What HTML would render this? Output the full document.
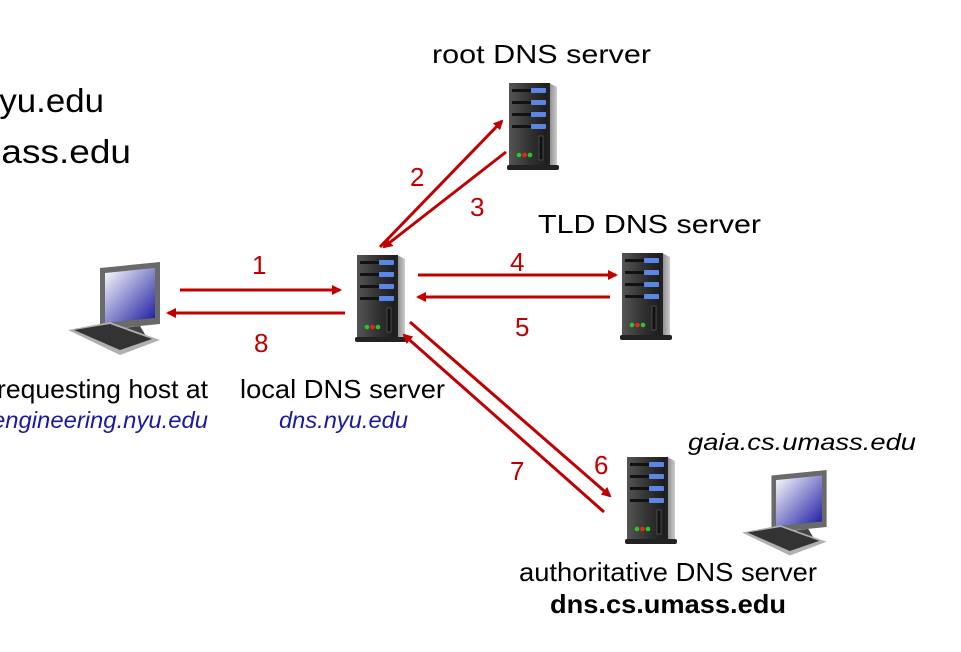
<!DOCTYPE html>
<html><head><meta charset="utf-8"><style>
html,body{margin:0;padding:0;background:#fff;}
svg{display:block;}
text{font-family:"Liberation Sans",Arial,sans-serif;}
</style></head><body>
<svg width="961" height="652" viewBox="0 0 961 652" xmlns="http://www.w3.org/2000/svg">
<defs>
<linearGradient id="body" x1="0" x2="1" y1="0" y2="0">
<stop offset="0" stop-color="#555"/><stop offset="0.5" stop-color="#333"/><stop offset="1" stop-color="#1a1a1a"/>
</linearGradient>
<linearGradient id="side" x1="0" x2="1"><stop offset="0" stop-color="#888"/><stop offset="1" stop-color="#ccc"/></linearGradient>
<linearGradient id="scr" x1="0" y1="0" x2="1" y2="1"><stop offset="0" stop-color="#fff"/><stop offset="1" stop-color="#1a1aa0"/></linearGradient>
<g id="srv">
<rect x="2" y="2" width="40" height="82" fill="url(#body)"/>
<polygon points="42,2 50,6 50,84 42,84" fill="url(#side)"/>
<rect x="40" y="2" width="3" height="82" fill="#222"/>
<g fill="#111"><rect x="5" y="8" width="22" height="3"/><rect x="5" y="20" width="22" height="3"/><rect x="5" y="32" width="22" height="3"/><rect x="5" y="44" width="22" height="3"/></g>
<g fill="#5a86e8"><rect x="24" y="7" width="15" height="5" rx="1"/><rect x="24" y="19" width="15" height="5" rx="1"/><rect x="24" y="31" width="15" height="5" rx="1"/><rect x="24" y="43" width="15" height="5" rx="1"/></g>
<rect x="32" y="55" width="4" height="24" fill="#111" stroke="#666" stroke-width="0.6"/>
<circle cx="12" cy="74" r="2.3" fill="#2c2"/><circle cx="17.5" cy="74" r="2.3" fill="#e22"/><circle cx="23" cy="74" r="2.3" fill="#2c2"/>
<rect x="0" y="84" width="52" height="5" rx="2" fill="#222"/>
</g>
<g id="pc">
<polygon points="32,6 92,0 92,62 32,68" fill="#6a6a6a"/>
<polygon points="37,11 87,6 87,56 37,61" fill="url(#scr)"/>
<polygon points="55,66 72,64 78,74 50,76" fill="#444"/>
<polygon points="0,68 42,60 92,78 52,93" fill="#b0b0b0"/>
<polygon points="6,68 42,62 84,77 52,88" fill="#333"/>
</g>
<marker id="ah" markerWidth="10" markerHeight="10" refX="8" refY="5" orient="auto" markerUnits="userSpaceOnUse">
<polygon points="0,0 10,5 0,10" fill="#c00000"/></marker>
</defs>

<text x="-20" y="112" font-size="33" textLength="124" lengthAdjust="spacingAndGlyphs">nyu.edu</text>
<text x="-50" y="163" font-size="33" textLength="181" lengthAdjust="spacingAndGlyphs">umass.edu</text>

<use href="#srv" x="355" y="253"/>
<use href="#srv" x="507" y="81"/>
<use href="#srv" x="620" y="251"/>
<use href="#srv" x="625" y="455"/>

<use href="#pc" x="68" y="262"/>
<g transform="translate(742,470) scale(0.92)"><use href="#pc"/></g>

<g stroke="#c00000" stroke-width="3" fill="none" marker-end="url(#ah)">
<line x1="180" y1="290" x2="340" y2="290"/>
<line x1="345" y1="313" x2="168" y2="313"/>
<line x1="380" y1="247" x2="502" y2="121"/>
<line x1="506" y1="152" x2="384" y2="247"/>
<line x1="418" y1="275" x2="616" y2="275"/>
<line x1="610" y1="297" x2="418" y2="297"/>
<line x1="410" y1="322" x2="610" y2="496"/>
<line x1="604" y1="512" x2="404" y2="335"/>
</g>

<g fill="#c00000" font-size="26">
<text x="252" y="274">1</text>
<text x="410" y="186">2</text>
<text x="470" y="216">3</text>
<text x="510" y="271">4</text>
<text x="515" y="336">5</text>
<text x="594" y="474">6</text>
<text x="510" y="480">7</text>
<text x="254" y="352">8</text>
</g>

<g font-size="26" fill="#000">
<text x="432" y="63" textLength="219" lengthAdjust="spacingAndGlyphs">root DNS server</text>
<text x="538" y="233" textLength="223" lengthAdjust="spacingAndGlyphs">TLD DNS server</text>
<text x="-3" y="398" textLength="211" lengthAdjust="spacingAndGlyphs">requesting host at</text>
<text x="240" y="398" textLength="205" lengthAdjust="spacingAndGlyphs">local DNS server</text>
<text x="519" y="581" textLength="298" lengthAdjust="spacingAndGlyphs">authoritative DNS server</text>
<text x="550" y="613" font-weight="bold" textLength="236" lengthAdjust="spacingAndGlyphs">dns.cs.umass.edu</text>
</g>
<g font-size="23" font-style="italic">
<text x="-8" y="428" fill="#1a1aa0" textLength="216" lengthAdjust="spacingAndGlyphs">engineering.nyu.edu</text>
<text x="279" y="428" fill="#1a1aa0" textLength="129" lengthAdjust="spacingAndGlyphs">dns.nyu.edu</text>
<text x="688" y="450" fill="#000" textLength="228" lengthAdjust="spacingAndGlyphs">gaia.cs.umass.edu</text>
</g>
</svg>
</body></html>
